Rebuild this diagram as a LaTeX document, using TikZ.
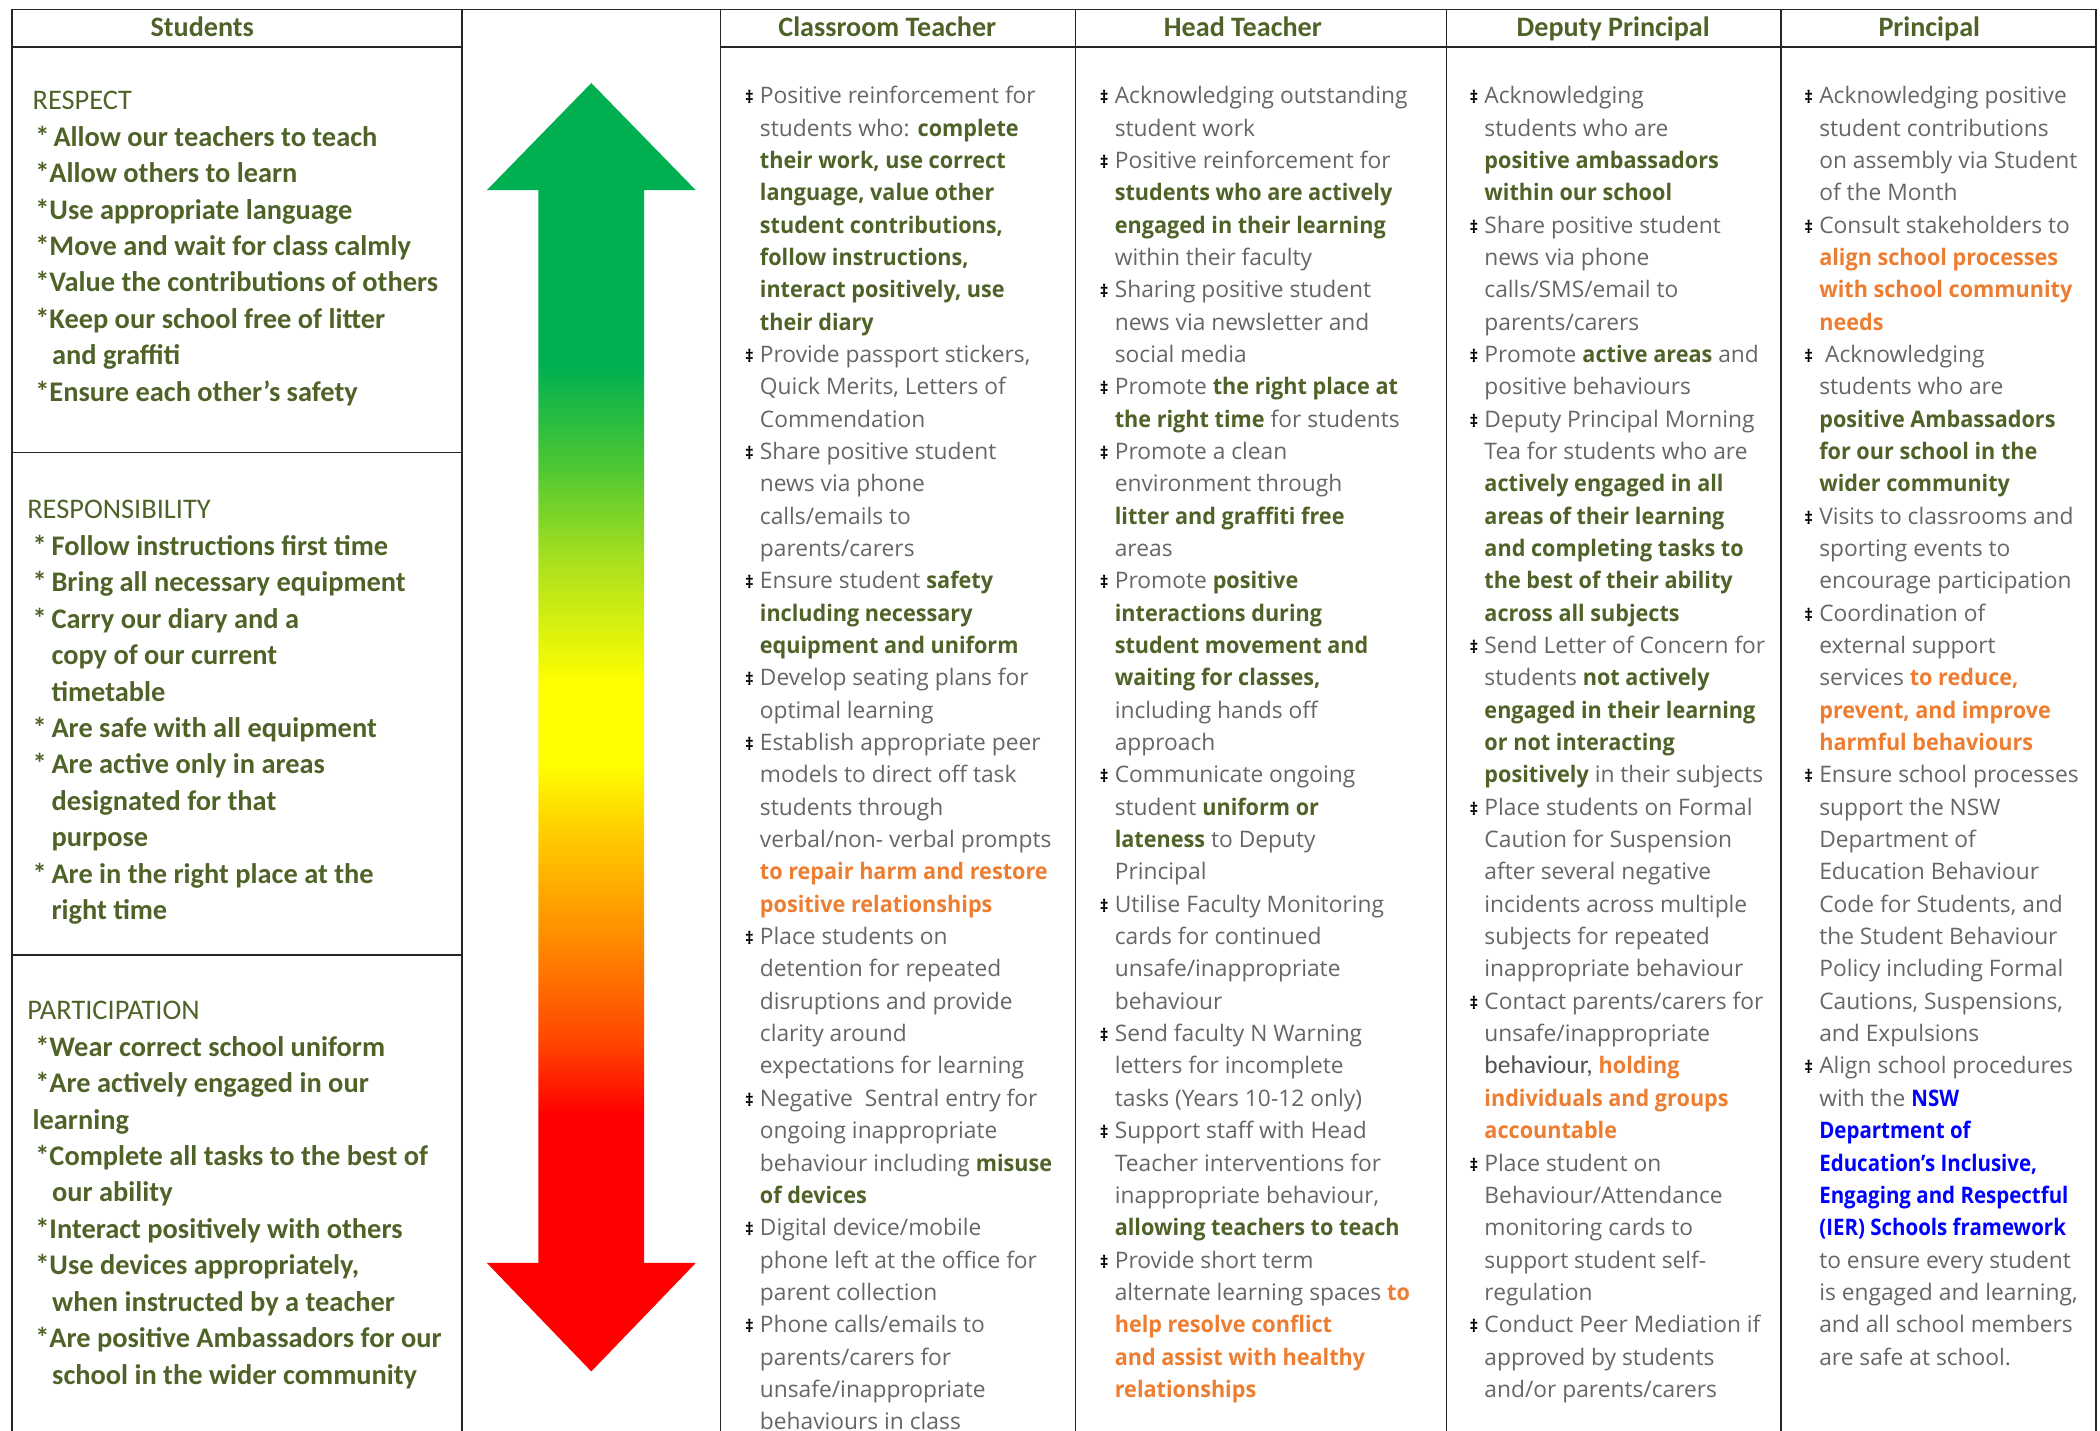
\documentclass[tikz,border=0pt]{standalone}
\usepackage{fontspec}
\setmainfont{Open Sans}[BoldFeatures={FakeStretch=0.95}]
\newfontfamily\narrowfont{Open Sans}[BoldFeatures={FakeStretch=0.9}]
\newfontfamily\calfont{Carlito}
\usepackage{xcolor}
\usetikzlibrary{calc}

\definecolor{olivetxt}{HTML}{4F6228}
\definecolor{orangetxt}{HTML}{ED7D31}
\definecolor{bluetxt}{HTML}{0000FF}
\definecolor{greytxt}{HTML}{666666}
\definecolor{arrgreen}{HTML}{00B050}
\definecolor{arrlgreen}{HTML}{50C832}
\definecolor{arrlime}{HTML}{A8E01E}
\definecolor{arryellow}{HTML}{FFFF00}
\definecolor{arrgold}{HTML}{FFD200}
\definecolor{arrorange}{HTML}{FF8C00}
\definecolor{arrredorange}{HTML}{FF4500}
\definecolor{arrred}{HTML}{FF0000}

\pgfdeclareverticalshading{rainbowarrow}{100bp}{color(0bp)=(arrred); color(35bp)=(arrred);
  color(37.8bp)=(arrredorange); color(41.8bp)=(arrorange); color(46.2bp)=(arrgold);
  color(48.6bp)=(arryellow); color(51.7bp)=(arryellow); color(56.5bp)=(arrlime);
  color(60bp)=(arrlgreen); color(64bp)=(arrgreen); color(100bp)=(arrgreen)}

\newcommand{\grn}[1]{\textbf{\color{olivetxt}#1}}
\newcommand{\orn}[1]{\textbf{\color{orangetxt}#1}}
\newcommand{\blu}[1]{{\narrowfont\bfseries\color{bluetxt}#1}}
\newcommand{\itm}{\llap{{\color{black}\bfseries\fontsize{6.5}{6}\selectfont ‡}\hspace{2.3pt}}}

\tikzset{
  rule/.style={line width=0.6pt, black!85},
  colhead/.style={font=\calfont\bfseries\fontsize{10.5}{12}\selectfont, text=olivetxt, inner sep=0pt, anchor=base},
  stutext/.style={font=\calfont\bfseries\fontsize{10.6}{13.6}\selectfont, text=olivetxt, align=left, inner sep=0pt, anchor=north west},
  dutytext/.style={font=\fontsize{8.5}{12.075}\selectfont, text=greytxt, align=left, inner sep=0pt, anchor=north west}
}

\begin{document}
\begin{tikzpicture}[x=0.5pt,y=0.5pt]
    \useasboundingbox (0,0) rectangle (1568,-1068);
    \shade[shading=rainbowarrow] (441.5,-62) -- (519.5,-142) -- (481,-142) -- (481,-943) -- (519.5,-943) -- (441.5,-1024)
        -- (363.5,-943) -- (402,-943) -- (402,-142) -- (363.5,-142) -- cycle;
    \draw[rule] (9,-7) -- (1565,-7);
    \draw[rule] (9,-35) -- (345,-35);
    \draw[rule] (538,-35) -- (1565,-35);
    \draw[rule] (9,-338) -- (345,-338);
    \draw[rule] (9,-713) -- (345,-713);
    \foreach \x in {9,345,538,803,1080,1330,1565}
        \draw[rule] (\x,-7) -- (\x,-1075);

    \node[colhead] (stuhead) at (151,-27) {Students};
    \node[colhead] (cthead) at (662.5,-27) {Classroom Teacher};
    \node[colhead] (hthead) at (928,-27) {Head Teacher};
    \node[colhead] (dphead) at (1204.5,-27) {Deputy Principal};
    \node[colhead] (prhead) at (1440.5,-27) {Principal};

    \node[stutext] (respect) at (24,-62.5) {\strut{\mdseries RESPECT}\\
        \hspace*{1pt}*\hspace{1.5pt}Allow our teachers to teach\\
        \hspace*{1pt}*Allow others to learn\\
        \hspace*{1pt}*Use appropriate language\\
        \hspace*{1pt}*Move and wait for class calmly\\
        \hspace*{1pt}*Value the contributions of others\\
        \hspace*{1pt}*Keep our school free of litter\\
        \hspace*{1pt}\hphantom{*}\hspace{1pt}and graffiti\\
        \hspace*{1pt}*Ensure each other’s safety};
    \node[stutext] (responsibility) at (20,-368) {\strut{\mdseries RESPONSIBILITY}\\
        \hspace*{2pt}*\,Follow instructions first time\\
        \hspace*{2pt}*\,Bring all necessary equipment\\
        \hspace*{2pt}*\,Carry our diary and a\\
        \hspace*{2pt}\hphantom{*\,}copy of our current\\
        \hspace*{2pt}\hphantom{*\,}timetable\\
        \hspace*{2pt}*\,Are safe with all equipment\\
        \hspace*{2pt}*\,Are active only in areas\\
        \hspace*{2pt}\hphantom{*\,}designated for that\\
        \hspace*{2pt}\hphantom{*\,}purpose\\
        \hspace*{2pt}*\,Are in the right place at the\\
        \hspace*{2pt}\hphantom{*\,}right time};
    \node[stutext] (participation) at (20,-742) {\strut{\mdseries PARTICIPATION}\\
        \hspace*{3pt}*Wear correct school uniform\\
        \hspace*{3pt}*Are actively engaged in our\\
        \hspace*{2pt}learning\\
        \hspace*{3pt}*Complete all tasks to the best of\\
        \hspace*{3pt}\hphantom{*}\hspace{1pt}our ability\\
        \hspace*{3pt}*Interact positively with others\\
        \hspace*{3pt}*Use devices appropriately,\\
        \hspace*{3pt}\hphantom{*}\hspace{1pt}when instructed by a teacher\\
        \hspace*{3pt}*Are positive Ambassadors for our\\
        \hspace*{3pt}\hphantom{*}\hspace{1pt}school in the wider community};

    \node[dutytext] (ctduties) at (567,-60.1) {\strut\itm Positive reinforcement for\\
        students who: \grn{complete}\\
        \grn{their work, use correct}\\
        \grn{language, value other}\\
        \grn{student contributions,}\\
        \grn{follow instructions,}\\
        \grn{interact positively, use}\\
        \grn{their diary}\\
        \itm Provide passport stickers,\\
        Quick Merits, Letters of\\
        Commendation\\
        \itm Share positive student\\
        news via phone\\
        calls/emails to\\
        parents/carers\\
        \itm Ensure student \grn{safety}\\
        \grn{including necessary}\\
        \grn{equipment and uniform}\\
        \itm Develop seating plans for\\
        optimal learning\\
        \itm Establish appropriate peer\\
        models to direct off task\\
        students through\\
        verbal/non- verbal prompts\\
        \orn{to repair harm and restore}\\
        \orn{positive relationships}\\
        \itm Place students on\\
        detention for repeated\\
        disruptions and provide\\
        clarity around\\
        expectations for learning\\
        \itm Negative\ \ Sentral entry for\\
        ongoing inappropriate\\
        behaviour including \grn{misuse}\\
        \grn{of devices}\\
        \itm Digital device/mobile\\
        phone left at the office for\\
        parent collection\\
        \itm Phone calls/emails to\\
        parents/carers for\\
        unsafe/inappropriate\\
        behaviours in class};

    \node[dutytext] (htduties) at (832,-60.1) {\strut\itm Acknowledging outstanding\\
        student work\\
        \itm Positive reinforcement for\\
        \grn{students who are actively}\\
        \grn{engaged in their learning}\\
        within their faculty\\
        \itm Sharing positive student\\
        news via newsletter and\\
        social media\\
        \itm Promote \grn{the right place at}\\
        \grn{the right time} for students\\
        \itm Promote a clean\\
        environment through\\
        \grn{litter and graffiti free}\\
        areas\\
        \itm Promote \grn{positive}\\
        \grn{interactions during}\\
        \grn{student movement and}\\
        \grn{waiting for classes,}\\
        including hands off\\
        approach\\
        \itm Communicate ongoing\\
        student \grn{uniform or}\\
        \grn{lateness} to Deputy\\
        Principal\\
        \itm Utilise Faculty Monitoring\\
        cards for continued\\
        unsafe/inappropriate\\
        behaviour\\
        \itm Send faculty N Warning\\
        letters for incomplete\\
        tasks (Years 10-12 only)\\
        \itm Support staff with Head\\
        Teacher interventions for\\
        inappropriate behaviour,\\
        \grn{allowing teachers to teach}\\
        \itm Provide short term\\
        alternate learning spaces \orn{to}\\
        \orn{help resolve conflict}\\
        \orn{and assist with healthy}\\
        \orn{relationships}};

    \node[dutytext] (dpduties) at (1108,-60.1) {\strut\itm Acknowledging\\
        students who are\\
        \grn{positive ambassadors}\\
        \grn{within our school}\\
        \itm Share positive student\\
        news via phone\\
        calls/SMS/email to\\
        parents/carers\\
        \itm Promote \grn{active areas} and\\
        positive behaviours\\
        \itm Deputy Principal Morning\\
        Tea for students who are\\
        \grn{actively engaged in all}\\
        \grn{areas of their learning}\\
        \grn{and completing tasks to}\\
        \grn{the best of their ability}\\
        \grn{across all subjects}\\
        \itm Send Letter of Concern for\\
        students \grn{not actively}\\
        \grn{engaged in their learning}\\
        \grn{or not interacting}\\
        \grn{positively} in their subjects\\
        \itm Place students on Formal\\
        Caution for Suspension\\
        after several negative\\
        incidents across multiple\\
        subjects for repeated\\
        inappropriate behaviour\\
        \itm Contact parents/carers for\\
        unsafe/inappropriate\\
        {\calfont\fontsize{9.5}{12.075}\selectfont\color{black!68}behaviour,} \orn{holding}\\
        \orn{individuals and groups}\\
        \orn{accountable}\\
        \itm Place student on\\
        Behaviour/Attendance\\
        monitoring cards to\\
        support student self-\\
        regulation\\
        \itm Conduct Peer Mediation if\\
        approved by students\\
        and/or parents/carers};

    \node[dutytext] (prduties) at (1358,-60.1) {\strut\itm Acknowledging positive\\
        student contributions\\
        on assembly via Student\\
        of the Month\\
        \itm Consult stakeholders to\\
        \orn{align school processes}\\
        \orn{with school community}\\
        \orn{needs}\\
        \itm\ Acknowledging\\
        students who are\\
        \grn{positive Ambassadors}\\
        \grn{for our school in the}\\
        \grn{wider community}\\
        \itm Visits to classrooms and\\
        sporting events to\\
        encourage participation\\
        \itm Coordination of\\
        external support\\
        services \orn{to reduce,}\\
        \orn{prevent, and improve}\\
        \orn{harmful behaviours}\\
        \itm Ensure school processes\\
        support the NSW\\
        Department of\\
        Education Behaviour\\
        Code for Students, and\\
        the Student Behaviour\\
        Policy including Formal\\
        Cautions, Suspensions,\\
        and Expulsions\\
        \itm Align school procedures\\
        with the \blu{NSW}\\
        \blu{Department of}\\
        \blu{Education’s Inclusive,}\\
        \blu{Engaging and Respectful}\\
        \blu{(IER) Schools framework}\\
        to ensure every student\\
        is engaged and learning,\\
        and all school members\\
        are safe at school.};
\end{tikzpicture}
\end{document}
